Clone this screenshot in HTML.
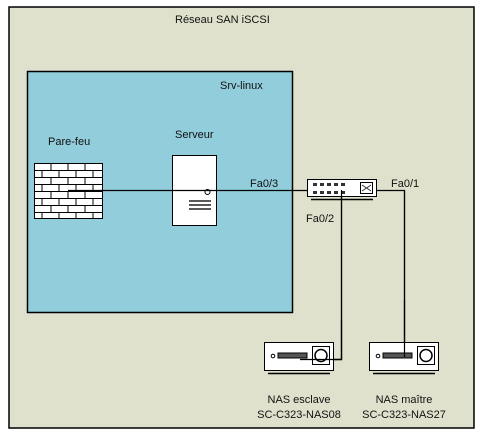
<!DOCTYPE html>
<html><head><meta charset="utf-8"><style>body{margin:0;background:#fff}svg{display:block}text{font-family:"Liberation Sans",sans-serif;font-size:11px;fill:#111}</style></head><body>
<svg width="483" height="437" xmlns="http://www.w3.org/2000/svg">
<rect x="9" y="7" width="465" height="421" fill="#dfe1cc" stroke="#000" stroke-width="1.5"/>
<text x="175" y="23">Réseau SAN iSCSI</text>
<rect x="27.5" y="71.5" width="265" height="241" fill="#92cddc" stroke="#000" stroke-width="1.5"/>
<text x="220" y="89">Srv-linux</text>
<text x="48" y="145">Pare-feu</text>
<text x="175" y="138">Serveur</text>
<!-- firewall -->
<g stroke="#000" stroke-width="1">
<rect x="34.5" y="163.5" width="68" height="55" fill="#fff"/>
<path d="M34.5 170.5H102.5M34.5 177.5H102.5M34.5 184.5H102.5M34.5 191.5H102.5M34.5 198.5H102.5M34.5 205.5H102.5M34.5 212.5H102.5" fill="none"/>
<path d="M51 163.5V170.5M68 163.5V170.5M85 163.5V170.5 M42 170.5V177.5M59 170.5V177.5M76 170.5V177.5M93 170.5V177.5 M51 177.5V184.5M68 177.5V184.5M85 177.5V184.5 M42 184.5V191.5M59 184.5V191.5M76 184.5V191.5M93 184.5V191.5 M51 191.5V198.5M68 191.5V198.5M85 191.5V198.5 M42 198.5V205.5M59 198.5V205.5M76 198.5V205.5M93 198.5V205.5 M51 205.5V212.5M68 205.5V212.5M85 205.5V212.5 M42 212.5V218.5M59 212.5V218.5M76 212.5V218.5M93 212.5V218.5" fill="none"/>
</g>
<!-- server -->
<rect x="172.5" y="155.5" width="44" height="70" fill="#fff" stroke="#000"/>
<circle cx="207.5" cy="192" r="2.5" fill="#fff" stroke="#000"/>
<path d="M189 201H211M189 205H211M189 209H211" stroke="#222" stroke-width="1.5"/>
<!-- lines -->
<path d="M68 190.5H404.5V357M341.5 190V359.5H300" fill="none" stroke="#000" stroke-width="1.2"/>
<!-- switch -->
<rect x="307.5" y="179.5" width="69" height="17" fill="#fff" stroke="#000"/>
<g fill="#333"><rect x="313" y="183" width="4" height="3"/><rect x="320" y="183" width="4" height="3"/><rect x="327" y="183" width="4" height="3"/><rect x="334" y="183" width="4" height="3"/><rect x="341" y="183" width="4" height="3"/><rect x="313" y="191" width="4" height="3"/><rect x="320" y="191" width="4" height="3"/><rect x="327" y="191" width="4" height="3"/><rect x="334" y="191" width="4" height="3"/><rect x="341" y="191" width="4" height="3"/></g>
<rect x="360.5" y="182.5" width="12" height="11" fill="#fff" stroke="#000"/>
<path d="M362 185L371 191M371 185L362 191" stroke="#333"/>
<path d="M311 199.5H373" stroke="#000" stroke-width="1.5"/>
<path d="M341.5 190V359.5H300M404.5 190.5V357" fill="none" stroke="#000" stroke-width="1.2"/>
<text x="250" y="187">Fa0/3</text>
<text x="391" y="187">Fa0/1</text>
<text x="306" y="222">Fa0/2</text>
<!-- NAS esclave -->
<g>
<rect x="264.5" y="342.5" width="69" height="28" fill="#fff" stroke="#000"/>
<path d="M268 373.5H330" stroke="#000" stroke-width="1.5"/>
<circle cx="273" cy="356" r="1.8" fill="#fff" stroke="#000"/>
<rect x="278" y="353" width="29" height="5" fill="#555" stroke="#000"/>
<rect x="312.5" y="346.5" width="17" height="18" fill="#fff" stroke="#000"/>
<circle cx="321" cy="355.5" r="6" fill="#fff" stroke="#000" stroke-width="1.5"/>
<path d="M300 359.5H341.5V320" fill="none" stroke="#000" stroke-width="1.2"/>
</g>
<g>
<rect x="369.5" y="342.5" width="69" height="28" fill="#fff" stroke="#000"/>
<path d="M373 373.5H435" stroke="#000" stroke-width="1.5"/>
<circle cx="378" cy="356" r="1.8" fill="#fff" stroke="#000"/>
<rect x="383" y="353" width="29" height="5" fill="#555" stroke="#000"/>
<rect x="417.5" y="346.5" width="17" height="18" fill="#fff" stroke="#000"/>
<circle cx="426" cy="355.5" r="6" fill="#fff" stroke="#000" stroke-width="1.5"/>
<path d="M404.5 357V300" stroke="#000" stroke-width="1.2"/>
</g>
<text x="299" y="403" text-anchor="middle">NAS esclave</text>
<text x="299" y="418" text-anchor="middle">SC-C323-NAS08</text>
<text x="404" y="403" text-anchor="middle">NAS maître</text>
<text x="404" y="418" text-anchor="middle">SC-C323-NAS27</text>
</svg>
</body></html>
